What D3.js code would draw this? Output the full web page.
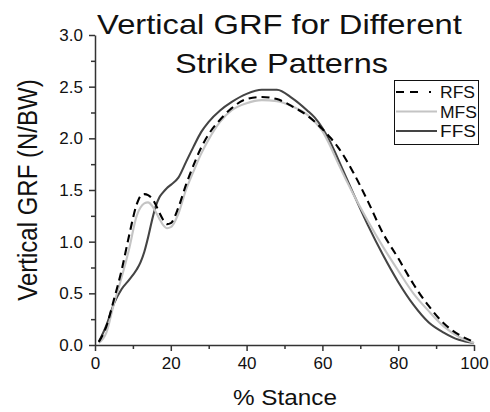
<!DOCTYPE html>
<html lang="en">
<head>
    <meta charset="UTF-8">
    <title>Vertical GRF for Different Strike Patterns</title>
    <script src="https://d3js.org/d3.v7.min.js"></script>
    <style>
        body{ margin:0; background-color:white; }
        svg{ display:block; background-color:white; font-family:"Liberation Sans", Arial, sans-serif; }
    </style>
</head>
<body>
    <script>
        // % stance sample points, shared by all three series
        const stance = [1,3,5,7,9,11,12,13,14,15,16,17,18,19,20,22,24,26,28,30,33,36,40,44,48,52,56,58,60,62,64,68,72,76,80,84,88,92,96,100];
        const rfs = [0.03,0.18,0.44,0.72,1.06,1.36,1.44,1.46,1.45,1.42,1.36,1.28,1.21,1.17,1.18,1.33,1.55,1.74,1.91,2.04,2.18,2.29,2.38,2.40,2.38,2.31,2.22,2.16,2.09,2.01,1.92,1.68,1.39,1.08,0.84,0.59,0.38,0.21,0.10,0.03];
        const mfs = [0.02,0.12,0.40,0.65,0.93,1.25,1.33,1.37,1.38,1.35,1.29,1.22,1.16,1.13,1.14,1.27,1.50,1.68,1.85,1.99,2.16,2.27,2.34,2.37,2.36,2.31,2.23,2.16,2.07,1.93,1.77,1.47,1.20,0.95,0.72,0.50,0.33,0.18,0.08,0.02];
        const ffs = [0.03,0.19,0.40,0.54,0.63,0.73,0.80,0.90,1.04,1.20,1.34,1.43,1.48,1.52,1.55,1.62,1.77,1.92,2.06,2.16,2.27,2.35,2.43,2.47,2.47,2.39,2.27,2.20,2.10,1.97,1.81,1.48,1.16,0.87,0.61,0.39,0.22,0.12,0.05,0.02];

        const seriesNames = ["RFS","MFS","FFS"];
        const xTicks = [0,20,40,60,80,100];
        const yTicks = [0,0.5,1,1.5,2,2.5,3];

        const w = 490, h = 412;
        const margin = {left:95,right:16,top:35,bottom:67};

        const series = [
            {name:seriesNames[0], values:rfs, color:"#000", dash:"8,5", tl:35},
            {name:seriesNames[1], values:mfs, color:"#c4c4c4", dash:null, tl:37},
            {name:seriesNames[2], values:ffs, color:"#444", dash:null, tl:36}
        ];

        const svg = d3.select("body").append("svg").attr("width",w).attr("height",h);

        const x = d3.scaleLinear().domain([0,100]).range([margin.left,w-margin.right]);
        const y = d3.scaleLinear().domain([0,3]).range([h-margin.bottom,margin.top]);

        // the reference lettering is drawn wider than normal: stretch a text to a given width
        function wide(sel, cx, cy, width, anchor){
            sel.attr("x",0).attr("y",0).attr("text-anchor",anchor||"middle");
            const len = sel.node().getComputedTextLength();
            sel.attr("transform","translate("+cx+","+cy+") scale("+(width/len)+",1)");
            return sel;
        }

        // minor ticks first
        svg.append("g").attr("transform","translate(0,"+(h-margin.bottom)+")")
            .call(d3.axisBottom(x).tickValues(d3.range(10,100,20)).tickSize(4).tickFormat(""))
            .call(g=>g.select(".domain").remove());
        svg.append("g").attr("transform","translate("+margin.left+",0)")
            .call(d3.axisLeft(y).tickValues(d3.range(0.25,3,0.5)).tickSize(4).tickFormat(""))
            .call(g=>g.select(".domain").remove());

        svg.append("g").attr("transform","translate(0,"+(h-margin.bottom)+")")
            .call(d3.axisBottom(x).tickValues(xTicks).tickSize(6).tickPadding(6).tickSizeOuter(0));
        svg.append("g").attr("transform","translate("+margin.left+",0)")
            .call(d3.axisLeft(y).tickValues(yTicks).tickFormat(d3.format(".1f")).tickSize(6).tickPadding(6).tickSizeOuter(0));

        svg.selectAll(".tick line, .domain").attr("stroke","#333").attr("stroke-width",1.5);
        svg.selectAll(".tick text").attr("font-size",17).attr("fill","#111")
            .attr("font-family","'Liberation Sans', Arial, sans-serif");

        const line = d3.line()
            .x((d,i)=>x(stance[i]))
            .y(d=>y(d))
            .curve(d3.curveMonotoneX);

        svg.selectAll("path.series")
            .data(series.slice().reverse())
            .enter()
            .append("path")
            .attr("class","series")
            .attr("fill","none")
            .attr("stroke",d=>d.color)
            .attr("stroke-width",2.1)
            .attr("stroke-dasharray",d=>d.dash)
            .attr("d",d=>line(d.values));

        // title
        wide(svg.append("text").attr("font-size",28).attr("fill","#111").text("Vertical GRF for Different"), 279.5, 33.5, 365);
        wide(svg.append("text").attr("font-size",28).attr("fill","#111").text("Strike Patterns"), 281.5, 72.5, 213);

        // axis labels
        wide(svg.append("text").attr("font-size",22).attr("fill","#111").text("% Stance"), 285, 405, 104);
        svg.append("text").attr("text-anchor","middle").attr("font-size",24).attr("fill","#111")
            .attr("transform","translate(37,190) rotate(-90) scale(1,1.15)").text("Vertical GRF (N/BW)");

        // legend
        const legend = svg.append("g");
        legend.append("rect").attr("x",394.5).attr("y",80.5).attr("width",84).attr("height",64)
            .attr("fill","white").attr("stroke","#111").attr("stroke-width",1);
        const rows = legend.selectAll("g.row").data(series).enter().append("g")
            .attr("transform",(d,i)=>"translate(0,"+(92+i*19.5)+")");
        rows.append("line").attr("x1",396).attr("x2",437).attr("y1",0).attr("y2",0)
            .attr("stroke",d=>d.color).attr("stroke-width",2.1)
            .attr("stroke-dasharray",d=>d.dash ? "8,6,8,11,2" : null);
        rows.append("text").attr("font-size",17).attr("fill","#111").text(d=>d.name)
            .each(function(d){ wide(d3.select(this), 440, 6, d.tl, "start"); });
    </script>
</body>
</html>
